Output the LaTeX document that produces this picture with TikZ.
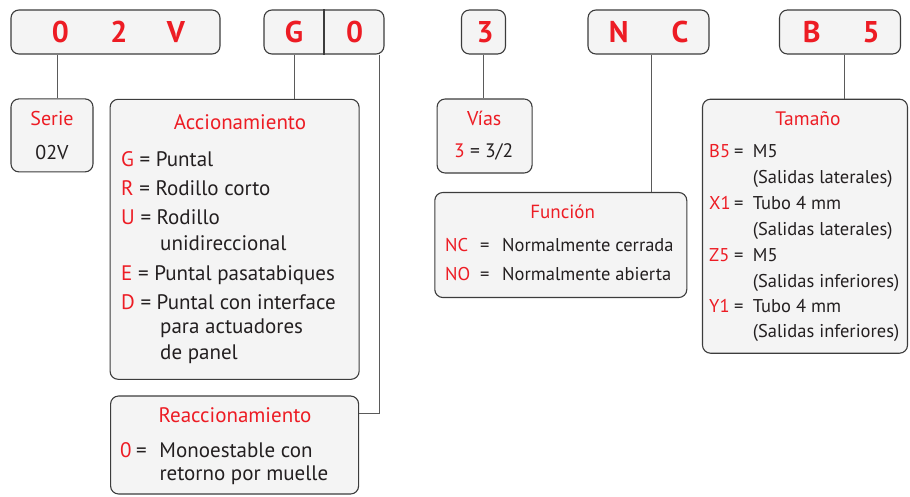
\documentclass[tikz,border=0pt]{standalone}
\usepackage{fontspec}
\setmainfont{PT Sans}
\usepackage{tikz}
\usetikzlibrary{positioning,calc}
\definecolor{codered}{HTML}{ED1C24}
\definecolor{edge}{HTML}{3C3C3C}
\definecolor{wire}{HTML}{5A5A5A}
\definecolor{boxbg}{HTML}{F4F4F4}
\definecolor{ink}{HTML}{231F20}
\newcommand{\R}[1]{\textcolor{codered}{#1}}
\newcommand{\keyeq}[3]{\makebox[#1][l]{\R{#3}}\makebox[#2][l]{=}}

\begin{document}
\begin{tikzpicture}[x=1pt,y=-1pt,
  cbox/.style={draw=edge,fill=boxbg,line width=1.1pt,rounded corners=8pt,inner sep=0pt},
  code/.style={font=\fontsize{30}{30}\selectfont\bfseries,text=codered,inner sep=0pt},
  head/.style={font=\fontsize{#1}{#1}\selectfont,text=codered,anchor=base,inner sep=0pt},
  head/.default=19,
  item/.style={font=\fontsize{#1}{#1}\selectfont,text=ink,anchor=base west,inner sep=0pt},
  item/.default=19,
  wire/.style={draw=wire,line width=0.9pt}
]
\useasboundingbox (0,0) rectangle (910,496);

% code boxes
\node[cbox,minimum width=209,minimum height=44] (codeA) at (115.5,32) {};
\node[cbox,minimum width=120,minimum height=44] (codeB) at (324,32) {};
\node[cbox,minimum width=44,minimum height=44] (codeC) at (483.5,32) {};
\node[cbox,minimum width=121,minimum height=44] (codeD) at (648.5,32) {};
\node[cbox,minimum width=121,minimum height=44] (codeE) at (840,32) {};
\draw[draw=edge,line width=1.1pt] (codeB.north) -- (codeB.south);

\node[code] (let0) at (60.5,32) {0};
\node[code] (let2) at (119,32) {2};
\node[code] (letV) at (176,32) {V};
\node[code] (letG) at (294,32) {G};
\node[code] (letR) at (354.7,32) {0};
\node[code] (let3) at (485,32) {3};
\node[code] (letN) at (618.6,32) {N};
\node[code] (letC) at (680,32) {C};
\node[code] (letB) at (811.7,32) {B};
\node[code] (let5) at (871,32) {5};

% description boxes
\node[cbox,minimum width=82,minimum height=73] (serie) at (52,135.4) {};
\node[cbox,minimum width=249,minimum height=280] (accion) at (234.6,239.3) {};
\node[cbox,minimum width=248,minimum height=98] (reacc) at (234.6,445) {};
\node[cbox,minimum width=95,minimum height=74] (vias) at (484.6,136) {};
\node[cbox,minimum width=252,minimum height=105] (func) at (560.8,245) {};
\node[cbox,minimum width=205,minimum height=254] (tamano) at (805,226.2) {};

% Serie
\node[head=20] (serieT) at (52,125) {Serie};
\node[item=20,anchor=base] (serieV) at (52,159) {02V};

% Accionamiento
\node[head=21] (accionT) at (240,129) {Accionamiento};
\node[item=21] (accG) at (121,166.7) {\R{G} = Puntal};
\node[item=21] (accR) at (121,195) {\R{R} = Rodillo corto};
\node[item=21] (accU) at (121,224.3) {\R{U} = Rodillo};
\node[item=21] (accU2) at (160,250) {unidireccional};
\node[item=21] (accE) at (121,280) {\R{E} = Puntal pasatabiques};
\node[item=21] (accD) at (121,309) {\R{D} = Puntal con interface};
\node[item=21] (accD2) at (160,333) {para actuadores};
\node[item=21] (accD3) at (160,359) {de panel};

% Reaccionamiento
\node[head=21] (reaccT) at (235,422.7) {Reaccionamiento};
\node[item=21] (rea0) at (120,457.3) {\keyeq{16pt}{23.3pt}{0}Monoestable con};
\node[item=21] (rea02) at (159.3,480.3) {retorno por muelle};

% Vias
\node[head=20] (viasT) at (484.3,125) {Vías};
\node[item=19.5] (vias3) at (454,157.3) {\R{3} = 3/2};

% Funcion
\node[head=19] (funcT) at (562.7,218.3) {Función};
\node[item=18.5] (funcNC) at (445,251.7) {\keyeq{35pt}{22pt}{NC}Normalmente cerrada};
\node[item=18.5] (funcNO) at (445,280) {\keyeq{35pt}{22pt}{NO}Normalmente abierta};

% Tamano
\node[head=19.5] (tamT) at (808,125) {Tamaño};
\node[item=18.5] (tamB5) at (709,157.7) {\keyeq{25pt}{18.7pt}{B5}M5};
\node[item=18.5] (tamB5b) at (752.7,183) {(Salidas laterales)};
\node[item=18.5] (tamX1) at (709,209.5) {\keyeq{25pt}{18.7pt}{X1}Tubo 4 mm};
\node[item=18.5] (tamX1b) at (752.7,235) {(Salidas laterales)};
\node[item=18.5] (tamZ5) at (709,261) {\keyeq{25pt}{18.7pt}{Z5}M5};
\node[item=18.5] (tamZ5b) at (752.7,287) {(Salidas inferiores)};
\node[item=18.5] (tamY1) at (709,312) {\keyeq{25pt}{18.7pt}{Y1}Tubo 4 mm};
\node[item=18.5] (tamY1b) at (752.7,337.5) {(Salidas inferiores)};

% connectors
\coordinate (rtap) at ([xshift=-5pt]codeB.south east);
\draw[wire] ([xshift=5pt]serie.north) -- ([xshift=5pt]serie.north |- codeA.south);
\draw[wire] (accion.north -| letG) -- (letG |- codeB.south);
\draw[wire] (rtap) |- ([yshift=-18pt]reacc.north east);
\draw[wire] (codeC.south) -- (codeC.south |- vias.north);
\draw[wire] ([xshift=2.5pt]codeD.south) -- ([xshift=2.5pt]codeD.south |- func.north);
\draw[wire] ([xshift=4.5pt]codeE.south) -- ([xshift=4.5pt]codeE.south |- tamano.north);
\end{tikzpicture}
\end{document}
